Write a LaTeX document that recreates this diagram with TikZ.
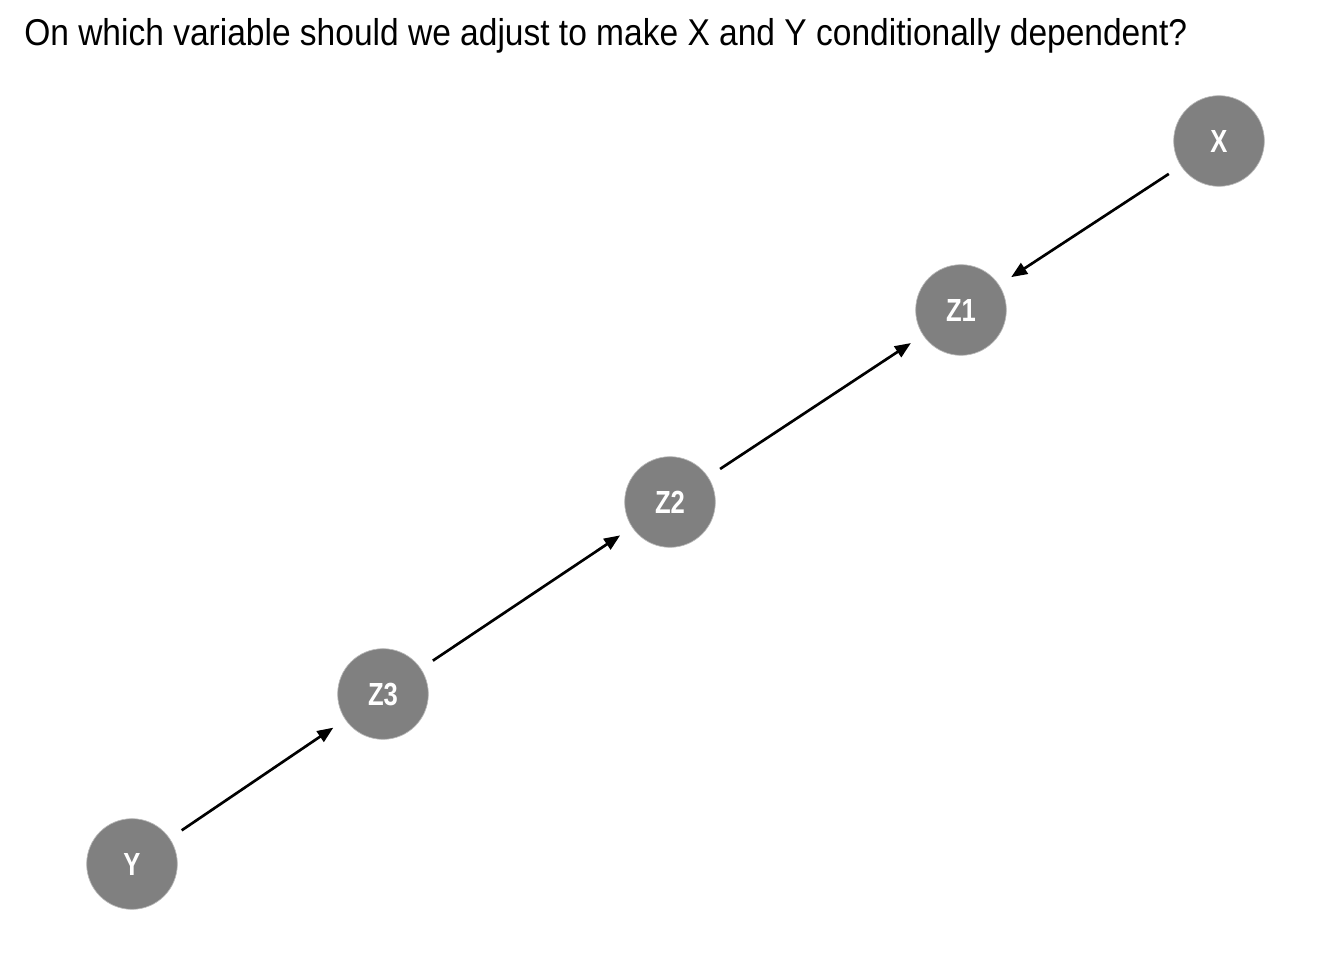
\documentclass[tikz,border=0pt]{standalone}
\usepackage{fontspec}
\setmainfont{Liberation Sans}[FakeStretch=0.898]
\newfontfamily\labelfont{Liberation Sans}[FakeStretch=0.80]
\usetikzlibrary{shapes,arrows.meta}
\definecolor{nodegray}{HTML}{808080}
\tikzstyle{var} = [circle, draw=gray!55, line width=0.5pt, fill=nodegray,
    minimum size=68pt, inner sep=0pt, outer sep=11pt,
    text=white, font=\labelfont\bfseries\fontsize{24}{24}\selectfont]
\tikzstyle{line} = [draw, line width=2pt, -{Triangle[length=12pt, width=9.5pt]}]

\begin{document}
\begin{tikzpicture}[x=0.75pt, y=-0.75pt]
    \useasboundingbox (0,0) rectangle (1344,960);
    % Title
    \node [anchor=base west, inner sep=0pt, font=\fontsize{28}{28}\selectfont] (title) at (24,45)
        {On which variable should we adjust to make X and Y conditionally dependent?};
    % Place nodes
    \node [var] (x) at (1219,141) {X};
    \node [var] (z1) at (961,310) {Z1};
    \node [var] (z2) at (670,502) {Z2};
    \node [var] (z3) at (383,694) {Z3};
    \node [var] (y) at (132,864) {Y};
    % Draw edges
    \path [line] (x) -- (z1);
    \path [line] (z2) -- (z1);
    \path [line] (z3) -- (z2);
    \path [line] (y) -- (z3);
\end{tikzpicture}
\end{document}
